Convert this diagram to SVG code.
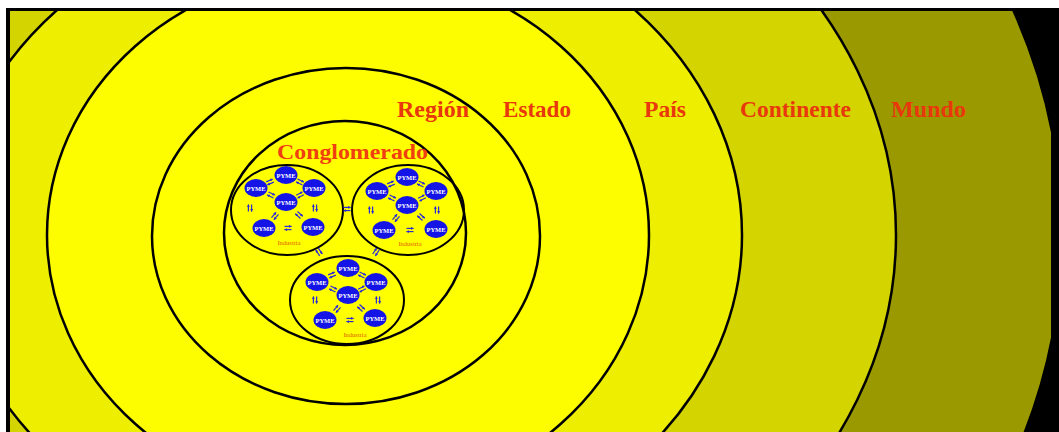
<svg xmlns="http://www.w3.org/2000/svg" width="1059" height="432" viewBox="0 0 1059 432">
<defs>
<style>
.ring{stroke:#000;stroke-width:2.5}
.ind{fill:none;stroke:#000;stroke-width:2}
.pyme{fill:#1414e6}
.pt{font-family:"Liberation Serif",serif;font-size:6.5px;fill:#fff;text-anchor:middle;font-weight:bold}
.it{font-family:"Liberation Serif",serif;font-size:6.5px;fill:#e06000;text-anchor:middle}
.lab{font-family:"Liberation Serif",serif;font-weight:bold;font-size:23px;fill:#e8380c}
.ar{stroke:#2a2ad8;stroke-width:1.2;marker-end:url(#ah);fill:none}
</style>
<marker id="ah" viewBox="0 0 4 4" refX="3.5" refY="2" markerWidth="3" markerHeight="3" markerUnits="userSpaceOnUse" orient="auto">
<path d="M0,0 L4,2 L0,4 z" fill="#2a2ad8"/>
</marker>
<clipPath id="frame"><rect x="10" y="11" width="1041" height="421"/></clipPath>
<g id="dbl">
<line class="ar" x1="-3.5" y1="-1.6" x2="3.5" y2="-1.6"/>
<line class="ar" x1="3.5" y1="1.6" x2="-3.5" y2="1.6"/>
</g>
</defs>

<rect x="0" y="0" width="1059" height="432" fill="#fff"/>
<rect x="6" y="8" width="1053" height="424" fill="#000"/>

<g clip-path="url(#frame)">
<g id="mundo"><ellipse class="ring" cx="346" cy="235" rx="716" ry="620" fill="#9a9a00"/></g>
<g id="continente"><ellipse class="ring" cx="346" cy="235" rx="550" ry="447" fill="#d4d400"/></g>
<g id="pais"><ellipse class="ring" cx="346" cy="235" rx="396" ry="329" fill="#eeee00"/></g>
<g id="estado"><ellipse class="ring" cx="348" cy="235" rx="301" ry="267" fill="#fdfd00"/></g>
<g id="region"><ellipse class="ring" cx="346" cy="236" rx="194" ry="168" fill="#ffff00"/></g>
<g id="conglomerado"><ellipse class="ring" cx="345" cy="233" rx="121" ry="112" fill="#ffff00"/></g>
</g>

<g id="industria-1" transform="translate(287,210)">
<ellipse class="ind" cx="0" cy="0" rx="56" ry="45"/>
<g id="i1-p1"><ellipse class="pyme" cx="-1" cy="-35" rx="11.5" ry="9"/><text class="pt" x="-1" y="-32.5">PYME</text></g>
<g id="i1-p2"><ellipse class="pyme" cx="-31" cy="-22" rx="11.5" ry="9"/><text class="pt" x="-31" y="-19.5">PYME</text></g>
<g id="i1-p3"><ellipse class="pyme" cx="27" cy="-22" rx="11.5" ry="9"/><text class="pt" x="27" y="-19.5">PYME</text></g>
<g id="i1-p4"><ellipse class="pyme" cx="-1" cy="-8" rx="11.5" ry="9"/><text class="pt" x="-1" y="-5.5">PYME</text></g>
<g id="i1-p5"><ellipse class="pyme" cx="-23" cy="18" rx="11.5" ry="9"/><text class="pt" x="-23" y="20.5">PYME</text></g>
<g id="i1-p6"><ellipse class="pyme" cx="26" cy="17" rx="11.5" ry="9"/><text class="pt" x="26" y="19.5">PYME</text></g>
<text class="it" x="2" y="35">Industria</text>
<g id="i1-links">
<use href="#dbl" transform="translate(-17,-28) rotate(-23)"/>
<use href="#dbl" transform="translate(13,-28) rotate(25)"/>
<use href="#dbl" transform="translate(-16,-15) rotate(25)"/>
<use href="#dbl" transform="translate(13,-15) rotate(-27)"/>
<use href="#dbl" transform="translate(-12,6) rotate(-50)"/>
<use href="#dbl" transform="translate(12,5) rotate(43)"/>
<use href="#dbl" transform="translate(1,18)"/>
<use href="#dbl" transform="translate(-37,-2) rotate(90)"/>
<use href="#dbl" transform="translate(28,-2) rotate(90)"/>
</g>
</g>

<g id="industria-2" transform="translate(408,211)">
<ellipse class="ind" cx="0" cy="-1" rx="56" ry="45"/>
<g id="i2-p1"><ellipse class="pyme" cx="-1" cy="-34" rx="11.5" ry="9"/><text class="pt" x="-1" y="-31.5">PYME</text></g>
<g id="i2-p2"><ellipse class="pyme" cx="-31" cy="-20" rx="11.5" ry="9"/><text class="pt" x="-31" y="-17.5">PYME</text></g>
<g id="i2-p3"><ellipse class="pyme" cx="28" cy="-20" rx="11.5" ry="9"/><text class="pt" x="28" y="-17.5">PYME</text></g>
<g id="i2-p4"><ellipse class="pyme" cx="-1" cy="-6" rx="11.5" ry="9"/><text class="pt" x="-1" y="-3.5">PYME</text></g>
<g id="i2-p5"><ellipse class="pyme" cx="-24" cy="19" rx="11.5" ry="9"/><text class="pt" x="-24" y="21.5">PYME</text></g>
<g id="i2-p6"><ellipse class="pyme" cx="28" cy="18" rx="11.5" ry="9"/><text class="pt" x="28" y="20.5">PYME</text></g>
<text class="it" x="2" y="35">Industria</text>
<g id="i2-links">
<use href="#dbl" transform="translate(-17,-27) rotate(-23)"/>
<use href="#dbl" transform="translate(13,-27) rotate(25)"/>
<use href="#dbl" transform="translate(-16,-13) rotate(25)"/>
<use href="#dbl" transform="translate(14,-13) rotate(-27)"/>
<use href="#dbl" transform="translate(-12,7) rotate(-50)"/>
<use href="#dbl" transform="translate(13,6) rotate(43)"/>
<use href="#dbl" transform="translate(2,19)"/>
<use href="#dbl" transform="translate(-37,-1) rotate(90)"/>
<use href="#dbl" transform="translate(29,-1) rotate(90)"/>
</g>
</g>

<g id="industria-3" transform="translate(347,300)">
<ellipse class="ind" cx="0" cy="0" rx="57" ry="44"/>
<g id="i3-p1"><ellipse class="pyme" cx="1" cy="-32" rx="11.5" ry="9"/><text class="pt" x="1" y="-29.5">PYME</text></g>
<g id="i3-p2"><ellipse class="pyme" cx="-30" cy="-18" rx="11.5" ry="9"/><text class="pt" x="-30" y="-15.5">PYME</text></g>
<g id="i3-p3"><ellipse class="pyme" cx="29" cy="-18" rx="11.5" ry="9"/><text class="pt" x="29" y="-15.5">PYME</text></g>
<g id="i3-p4"><ellipse class="pyme" cx="1" cy="-5" rx="11.5" ry="9"/><text class="pt" x="1" y="-2.5">PYME</text></g>
<g id="i3-p5"><ellipse class="pyme" cx="-22" cy="20" rx="11.5" ry="9"/><text class="pt" x="-22" y="22.5">PYME</text></g>
<g id="i3-p6"><ellipse class="pyme" cx="28" cy="18" rx="11.5" ry="9"/><text class="pt" x="28" y="20.5">PYME</text></g>
<text class="it" x="8" y="37">Industria</text>
<g id="i3-links">
<use href="#dbl" transform="translate(-15,-25) rotate(-23)"/>
<use href="#dbl" transform="translate(15,-25) rotate(25)"/>
<use href="#dbl" transform="translate(-14,-11) rotate(25)"/>
<use href="#dbl" transform="translate(15,-11) rotate(-27)"/>
<use href="#dbl" transform="translate(-10,9) rotate(-50)"/>
<use href="#dbl" transform="translate(14,8) rotate(43)"/>
<use href="#dbl" transform="translate(3,20)"/>
<use href="#dbl" transform="translate(-32,0) rotate(90)"/>
<use href="#dbl" transform="translate(31,0) rotate(90)"/>
</g>
</g>

<g id="connectors">
<use href="#dbl" transform="translate(347,209)"/>
<use href="#dbl" transform="translate(319,252) rotate(56)"/>
<use href="#dbl" transform="translate(376,252) rotate(-56)"/>
</g>

<g id="labels">
<text class="lab" x="277" y="159" font-size="21" textLength="151" lengthAdjust="spacingAndGlyphs" style="font-size:21px;fill:#f04010">Conglomerado</text>
<text class="lab" x="397" y="117" textLength="72" lengthAdjust="spacingAndGlyphs">Región</text>
<text class="lab" x="503" y="117" textLength="68" lengthAdjust="spacingAndGlyphs">Estado</text>
<text class="lab" x="644" y="117" textLength="42" lengthAdjust="spacingAndGlyphs">País</text>
<text class="lab" x="740" y="117" textLength="111" lengthAdjust="spacingAndGlyphs">Continente</text>
<text class="lab" x="891" y="117" textLength="75" lengthAdjust="spacingAndGlyphs">Mundo</text>
</g>
</svg>
